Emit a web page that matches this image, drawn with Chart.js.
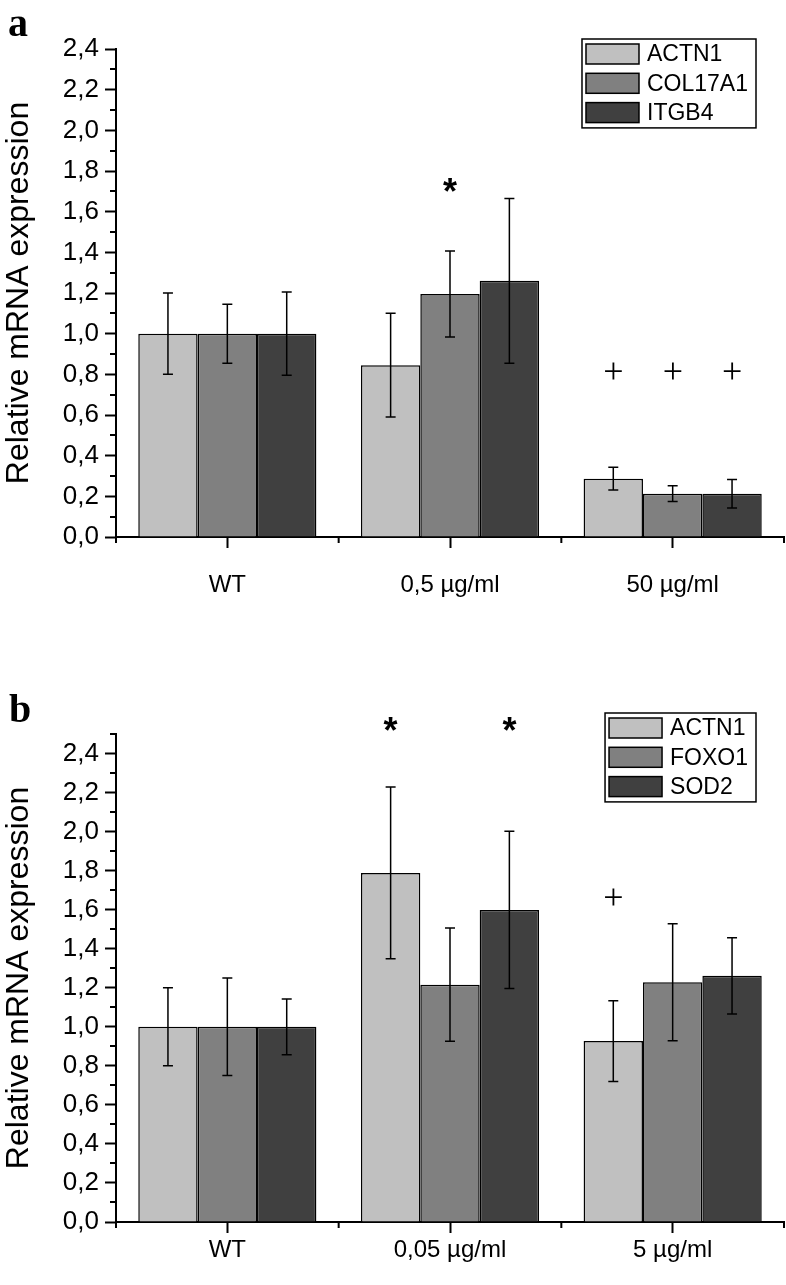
<!DOCTYPE html>
<html>
<head>
<meta charset="utf-8">
<script src="https://cdn.jsdelivr.net/npm/chart.js@4.4.1/dist/chart.umd.min.js"></script>
<style>
  html, body { margin: 0; padding: 0; background: #fff; }
  #wrap { position: relative; width: 786px; height: 1285px; }
  canvas { position: absolute; left: 0; }
  #chartA { top: 0; }
  #chartB { top: 640px; }
</style>
</head>
<body>
<div id="wrap">
  <canvas id="chartA" width="786" height="640"></canvas>
  <canvas id="chartB" width="786" height="645"></canvas>
</div>
<script>
// panel a
const groupsA = ["WT", "0,5 µg/ml", "50 µg/ml"];
const actn1A = [1.0, 0.845, 0.287];
const actn1ErrA = [0.2, 0.255, 0.056];
const col17a1A = [1.0, 1.195, 0.213];
const col17a1ErrA = [0.145, 0.212, 0.039];
const itgb4A = [1.0, 1.26, 0.213];
const itgb4ErrA = [0.205, 0.405, 0.07];
// [group, series, value, symbol]
const marksA = [[1, 1, 1.73, "*"], [2, 0, 0.817, "+"], [2, 1, 0.817, "+"], [2, 2, 0.817, "+"]];

// panel b
const groupsB = ["WT", "0,05 µg/ml", "5 µg/ml"];
const actn1B = [1.0, 1.788, 0.927];
const actn1ErrB = [0.2, 0.44, 0.207];
const foxo1B = [1.0, 1.216, 1.228];
const foxo1ErrB = [0.25, 0.29, 0.3];
const sod2B = [1.0, 1.599, 1.261];
const sod2ErrB = [0.143, 0.403, 0.195];
const marksB = [[1, 0, 2.55, "*"], [1, 2, 2.55, "*"], [2, 0, 1.666, "+"]];

const colors = ["#c0c0c0", "#808080", "#404040"];
const sansFont = '"Liberation Sans", Arial, sans-serif';

Chart.defaults.font.family = sansFont;
Chart.defaults.color = "#000";

const errorBars = {
  id: "errorBars",
  afterDatasetsDraw(chart) {
    const ctx = chart.ctx;
    const y = chart.scales.y;
    ctx.save();
    ctx.strokeStyle = "#000";
    ctx.lineWidth = 1.5;
    chart.data.datasets.forEach((ds, i) => {
      chart.getDatasetMeta(i).data.forEach((bar, j) => {
        const top = y.getPixelForValue(ds.data[j] + ds.errors[j]);
        const bot = y.getPixelForValue(ds.data[j] - ds.errors[j]);
        ctx.beginPath();
        ctx.moveTo(bar.x, top);
        ctx.lineTo(bar.x, bot);
        ctx.moveTo(bar.x - 5, top);
        ctx.lineTo(bar.x + 5, top);
        ctx.moveTo(bar.x - 5, bot);
        ctx.lineTo(bar.x + 5, bot);
        ctx.stroke();
      });
    });
    ctx.restore();
  }
};

const extras = {
  id: "extras",
  afterDraw(chart, args, opts) {
    const ctx = chart.ctx;
    const area = chart.chartArea;
    const y = chart.scales.y;
    ctx.save();
    ctx.strokeStyle = "#000";
    ctx.fillStyle = "#000";

    // minor ticks
    ctx.lineWidth = 2;
    ctx.beginPath();
    for (let k = 1; k <= Math.round(y.max * 10); k += 2) {
      const py = Math.round(y.getPixelForValue(k / 10));
      ctx.moveTo(area.left - 6, py);
      ctx.lineTo(area.left, py);
    }
    const n = chart.data.labels.length;
    const w = (area.right - area.left) / n;
    for (let k = 0; k <= n; k++) {
      const px = area.left + k * w;
      ctx.moveTo(px, area.bottom);
      ctx.lineTo(px, area.bottom + 6);
    }
    ctx.stroke();

    // significance marks
    opts.marks.forEach(([g, s, v, sym]) => {
      const bar = chart.getDatasetMeta(s).data[g];
      ctx.font = sym === "*" ? "bold 36px " + sansFont : '36px "Liberation Serif", serif';
      const m = ctx.measureText(sym);
      const bx = bar.x - (m.actualBoundingBoxRight - m.actualBoundingBoxLeft) / 2;
      const by = y.getPixelForValue(v) + (m.actualBoundingBoxAscent - m.actualBoundingBoxDescent) / 2;
      ctx.textAlign = "left";
      ctx.textBaseline = "alphabetic";
      ctx.fillText(sym, bx, by);
    });

    // legend box
    ctx.font = "23px " + sansFont;
    const names = chart.data.datasets.map((d) => d.label);
    const textW = Math.max(...names.map((t) => ctx.measureText(t).width));
    const boxW = 4 + 53 + 8 + textW + 8;
    const left = opts.legend.right - boxW;
    const top = opts.legend.top;
    const rowH = 29.3;
    ctx.lineWidth = 1.5;
    ctx.strokeRect(left, top, boxW, rowH * 3 + 1);
    ctx.textBaseline = "middle";
    names.forEach((t, i) => {
      const cy = top + 15 + i * rowH;
      ctx.fillStyle = chart.data.datasets[i].backgroundColor;
      ctx.fillRect(left + 4, cy - 10, 53, 20);
      ctx.strokeRect(left + 4, cy - 10, 53, 20);
      ctx.fillStyle = "#000";
      ctx.fillText(t, left + 65, cy + 1);
    });

    // panel letter
    ctx.font = 'bold 40px "Liberation Serif", serif';
    ctx.textBaseline = "alphabetic";
    ctx.fillText(opts.letter.text, opts.letter.x, opts.letter.y);
    ctx.restore();
  }
};

function makeDataset(label, values, errors, color) {
  return {
    label: label,
    data: values,
    errors: errors,
    backgroundColor: color,
    borderColor: "#000",
    borderWidth: 1.5,
    categoryPercentage: 0.8,
    barPercentage: 1.0,
  };
}

function makeChart(id, labels, datasets, cfg) {
  return new Chart(document.getElementById(id), {
    type: "bar",
    data: { labels: labels, datasets: datasets },
    options: {
      responsive: false,
      animation: false,
      devicePixelRatio: 1,
      layout: { padding: { top: cfg.top, right: 2, left: 0, bottom: 0 } },
      plugins: {
        legend: { display: false },
        tooltip: { enabled: false },
        extras: { marks: cfg.marks, legend: cfg.legend, letter: cfg.letter },
      },
      scales: {
        x: {
          offset: true,
          grid: { offset: false, drawOnChartArea: false, tickLength: 11, tickWidth: 2, tickColor: "#000" },
          border: { display: true, color: "#000", width: 2 },
          ticks: { font: { size: 24 }, padding: cfg.xPad, maxRotation: 0 },
          afterFit: (s) => { s.height = cfg.xHeight; },
        },
        y: {
          min: 0,
          max: cfg.max,
          grid: {
            drawOnChartArea: false,
            tickLength: 11,
            tickWidth: 2,
            tickColor: (c) => (c.tick && Math.round(c.tick.value * 10) % 2 ? "rgba(0,0,0,0)" : "#000"),
          },
          border: { display: true, color: "#000", width: 2 },
          ticks: {
            stepSize: 0.1,
            autoSkip: false,
            padding: 6,
            font: { size: 26 },
            callback: (v) => (Math.round(v * 10) % 2 ? "" : v.toFixed(1).replace(".", ",")),
          },
          title: { display: true, text: "Relative mRNA expression", font: { size: 32 }, padding: 0 },
          afterFit: (s) => { s.width = 116; },
        },
      },
    },
    plugins: [errorBars, extras],
  });
}

makeChart("chartA", groupsA, [
  makeDataset("ACTN1", actn1A, actn1ErrA, colors[0]),
  makeDataset("COL17A1", col17a1A, col17a1ErrA, colors[1]),
  makeDataset("ITGB4", itgb4A, itgb4ErrA, colors[2]),
], {
  top: 49,
  max: 2.4,
  xHeight: 103,
  xPad: 23,
  marks: marksA,
  legend: { right: 756, top: 39 },
  letter: { text: "a", x: 8, y: 36 },
});

makeChart("chartB", groupsB, [
  makeDataset("ACTN1", actn1B, actn1ErrB, colors[0]),
  makeDataset("FOXO1", foxo1B, foxo1ErrB, colors[1]),
  makeDataset("SOD2", sod2B, sod2ErrB, colors[2]),
], {
  top: 94,
  max: 2.5,
  xHeight: 63,
  xPad: 3,
  marks: marksB,
  legend: { right: 756, top: 73 },
  letter: { text: "b", x: 9, y: 82 },
});
</script>
</body>
</html>
